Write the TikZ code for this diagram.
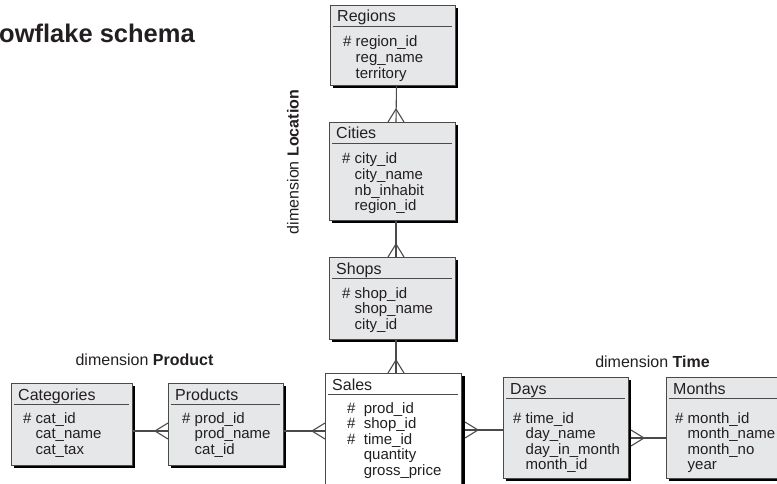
\documentclass[tikz,border=0pt]{standalone}
\usepackage{fontspec}
\setmainfont{Liberation Sans}
\usetikzlibrary{shadows,calc}

\definecolor{boxgray}{HTML}{E6E7E9}
\definecolor{edgegray}{HTML}{4A4A4A}
\definecolor{inkgray}{HTML}{231F20}

\tikzset{
  entity/.style={draw=edgegray, line width=0.7pt, fill=boxgray, anchor=north west,
    inner sep=0pt, outer sep=0pt,
    general shadow={fill=black, shadow xshift=3pt, shadow yshift=-3pt}},
  box sales/.style={fill=white,
    general shadow={fill=black, shadow xshift=4pt, shadow yshift=-3pt}},
  etitle/.style={anchor=base west, inner sep=0pt, text=inkgray,
    font=\fontsize{16pt}{16pt}\selectfont},
  efield/.style={anchor=base west, inner sep=0pt, text=inkgray,
    font=\fontsize{15pt}{15pt}\selectfont},
  rulebar/.style={draw=edgegray, line width=0.9pt},
  link/.style={draw=edgegray, line width=1.1pt},
  dimlabel/.style={inner sep=0pt, text=inkgray,
    font=\fontsize{16pt}{16pt}\selectfont},
  crow/.pic={\draw[link] (-13,0) -- (0,-8) (-13,0) -- (0,8);}
}

% #1 name, #2 x, #3 y, #4 width, #5 height, #6 title,
% #7 field list, #8 field indent, #9 first field baseline offset
\newcommand\entitybox[9]{%
  \node[entity, box #1/.try, minimum width=#4pt, minimum height=#5pt] (#1) at (#2,#3) {};
  \node[etitle] (#1-title) at ([xshift=7pt,yshift=-17pt]#1.north west) {#6};
  \draw[rulebar] ([xshift=3pt,yshift=-21pt]#1.north west) -- ([xshift=-3pt,yshift=-21pt]#1.north east);
  \foreach \t [count=\i from 0] in {#7}
    \node[efield] (#1-f\i) at ([xshift=#8pt,yshift={-#9pt-15.6pt*\i}]#1.north west) {\t};
}

\newcommand\ind{\hphantom{\#\ }}
\newcommand\indd{\hphantom{\#\ \ }}

\begin{document}
\begin{tikzpicture}[x=1pt, y=-1pt]
  \useasboundingbox (0,0) rectangle (777,484);
  \clip (0,0) rectangle (777,484);

  % heading and dimension labels
  \node[anchor=base east, inner sep=0pt, text=inkgray,
        font=\fontsize{25.5pt}{25.5pt}\selectfont\bfseries] (heading) at (195,43) {owflake schema};
  \node[dimlabel, rotate=90] (dimloc) at (293,162) {dimension \textbf{Location}};
  \node[dimlabel, anchor=base] (dimprod) at (144.5,365) {dimension \textbf{Product}};
  \node[dimlabel, anchor=base] (dimtime) at (652.5,367) {dimension \textbf{Time}};

  % location dimension
  \entitybox{regions}{330}{5}{125}{80}{Regions}
    {{\# region\_id},{\ind reg\_name},{\ind territory}}{13}{42}
  \entitybox{cities}{329}{122}{126}{98}{Cities}
    {{\# city\_id},{\ind city\_name},{\ind nb\_inhabit},{\ind region\_id}}{13}{42}
  \entitybox{shops}{329}{257}{126}{82}{Shops}
    {{\# shop\_id},{\ind shop\_name},{\ind city\_id}}{13}{41}

  % product dimension
  \entitybox{categories}{11}{383}{121}{82}{Categories}
    {{\# cat\_id},{\ind cat\_name},{\ind cat\_tax}}{12}{40}
  \entitybox{products}{168}{383}{115}{82}{Products}
    {{\# prod\_id},{\ind prod\_name},{\ind cat\_id}}{14}{40}

  % fact table
  \entitybox{sales}{325}{373}{136}{130}{Sales}
    {{\# \ prod\_id},{\# \ shop\_id},{\# \ time\_id},{\indd quantity},{\indd gross\_price}}{22}{40}

  % time dimension
  \entitybox{days}{503}{377}{125}{101}{Days}
    {{\# time\_id},{\ind day\_name},{\ind day\_in\_month},{\ind month\_id}}{10}{46}
  \entitybox{months}{666}{377}{130}{101}{Months}
    {{\# month\_id},{\ind month\_name},{\ind month\_no},{\ind year}}{9}{46}

  % relationships (crow's foot on the many side)
  \draw[link] ([xshift=4pt]regions.south) -- ([xshift=4pt]cities.north);
  \pic[rotate=-90] at ([xshift=4pt]cities.north) {crow};
  \draw[link] ([xshift=4pt]cities.south) -- ([xshift=4pt]shops.north);
  \pic[rotate=-90] at ([xshift=4pt]shops.north) {crow};
  \draw[link] ([xshift=4pt]shops.south) -- ([xshift=4pt]shops.south |- sales.north);
  \pic[rotate=-90] at ([xshift=4pt]shops.south |- sales.north) {crow};

  \draw[link] ([yshift=-7pt]categories.east) -- ([yshift=-7pt]products.west);
  \pic at ([yshift=-7pt]products.west) {crow};
  \draw[link] ([yshift=-7pt]products.east) -- ([yshift=-7pt]products.east -| sales.west);
  \pic at ([yshift=-7pt]products.east -| sales.west) {crow};

  \draw[link] ([xshift=4pt,yshift=-2.5pt]days.west -| sales.east) -- ([yshift=-2.5pt]days.west);
  \pic[rotate=180] at ([xshift=4pt,yshift=-2.5pt]days.west -| sales.east) {crow};
  \draw[link] ([xshift=3pt,yshift=-10.5pt]days.east) -- ([yshift=-10.5pt]months.west);
  \pic[rotate=180] at ([xshift=3pt,yshift=-10.5pt]days.east) {crow};
\end{tikzpicture}
\end{document}
